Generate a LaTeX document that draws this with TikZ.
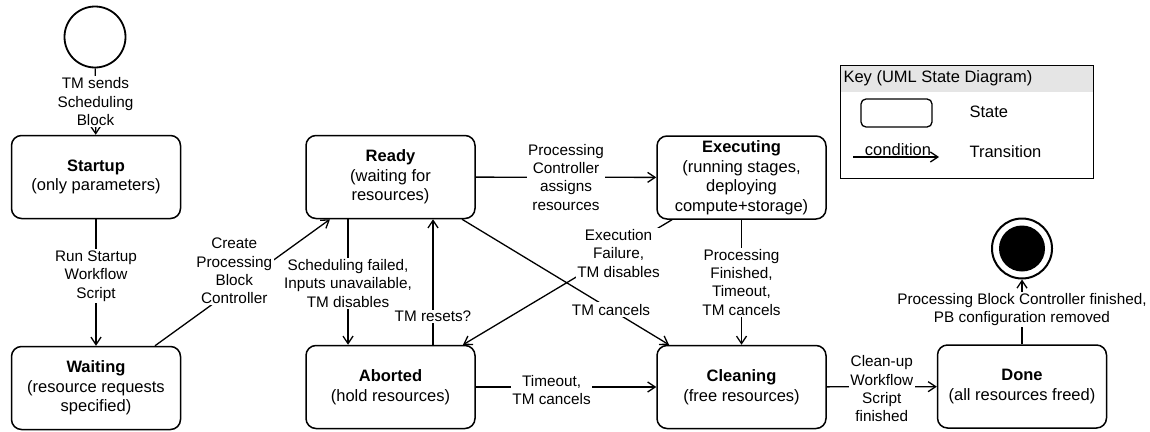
\documentclass[tikz,border=0pt]{standalone}
\usepackage{fontspec}
\setmainfont{Liberation Sans}
\usetikzlibrary{arrows.meta}
\begin{document}
\begin{tikzpicture}[x=1pt,y=-1pt,
  every node/.style={font=\fontsize{15.3}{18.3}\selectfont},
  state/.style={draw, line width=1.5pt, rounded corners=10pt, align=center,
    minimum width=169pt, minimum height=83pt, inner sep=2pt,
    font=\fontsize{16.5}{19.5}\selectfont},
  trans/.style={line width=1.3pt, -{Straight Barb[length=7.5pt,width=10pt]}},
  lbl/.style={fill=white, align=center, inner sep=1.5pt},
  keytext/.style={anchor=west, font=\fontsize{16.5}{19.5}\selectfont},
]
\useasboundingbox (0,0) rectangle (1150,431);

% initial and final pseudo-states
\node[circle, draw, line width=1.8pt, minimum size=61pt, inner sep=0] (init) at (95,37) {};
\node[circle, draw, line width=2pt, minimum size=60pt, inner sep=0] (final) at (1022,248.5) {};
\node[circle, fill=black, minimum size=46pt, inner sep=0] (finaldot) at (final) {};

% states
\node[state] (startup) at (96,177) {\textbf{Startup}\\(only parameters)};
\node[state] (waiting) at (96,388) {\textbf{Waiting}\\(resource requests\\specified)};
\node[state] (ready) at (390.5,177) {\textbf{Ready}\\(waiting for\\resources)};
\node[state] (aborted) at (390.5,387) {\textbf{Aborted}\\(hold resources)};
\node[state] (exec) at (741.5,177.5) {\textbf{Executing}\\(running stages,\\deploying\\compute+storage)};
\node[state] (clean) at (741.5,387) {\textbf{Cleaning}\\(free resources)};
\node[state] (done) at (1022,386.5) {\textbf{Done}\\(all resources freed)};

% transitions
\draw[trans] (init) -- node[lbl]{TM sends\\Scheduling\\Block} (startup);
\draw[trans] (startup) -- node[lbl, pos=0.45]{Run Startup\\Workflow\\Script} (waiting);
\draw[trans] ([xshift=59pt]waiting.north) -- node[lbl, pos=0.59, xshift=-24pt]{Create\\Processing\\Block\\Controller} ([xshift=-60.5pt]ready.south);
\draw[trans] ([xshift=-42.5pt]ready.south) -- node[lbl, pos=0.51]{Scheduling failed,\\Inputs unavailable,\\TM disables} ([xshift=-42.5pt]aborted.north);
\draw[trans] ([xshift=42.5pt]aborted.north) -- node[lbl, pos=0.225]{TM resets?} ([xshift=42.5pt]ready.south);
\draw[trans] (ready) -- node[lbl]{Processing\\Controller\\assigns\\resources} (exec);
\draw[trans] ([xshift=71.5pt]ready.south) -- node[lbl, pos=0.72]{TM cancels} ([xshift=-72.5pt]clean.north);
\draw[trans] ([xshift=-69.5pt]exec.south) -- node[lbl, pos=0.27, xshift=3pt]{Execution\\Failure,\\TM disables} ([xshift=72.5pt]aborted.north);
\draw[trans] (exec) -- node[lbl]{Processing\\Finished,\\Timeout,\\TM cancels} (clean);
\draw[trans] (aborted) -- node[lbl, pos=0.42, yshift=-3pt]{Timeout,\\TM cancels} (clean);
\draw[trans] (clean) -- node[lbl, yshift=-2pt]{Clean-up\\Workflow\\Script\\finished} (done);
\draw[trans] (done) -- node[lbl, pos=0.54]{Processing Block Controller finished,\\PB configuration removed} (final);

% key
\fill[black!10] (840,65) rectangle (1093,92);
\node[draw, line width=1.3pt, minimum width=253pt, minimum height=113pt, anchor=north west, inner sep=0] (key) at (840,65) {};
\node[keytext] (keytitle) at (840,78.5) {Key (UML State Diagram)};
\node[draw, line width=1.3pt, rounded corners=5pt, minimum width=71pt, minimum height=28pt] (keystate) at (896.5,113) {};
\node[keytext] (keystatetxt) at (966,112) {State};
\coordinate (ka) at (853,157);
\coordinate (kb) at (939,157);
\draw[trans] (ka) -- node[above, inner sep=1pt, xshift=2pt, font=\fontsize{16.5}{19.5}\selectfont]{condition} (kb);
\node[keytext] (keytranstxt) at (966,152) {Transition};
\end{tikzpicture}
\end{document}
